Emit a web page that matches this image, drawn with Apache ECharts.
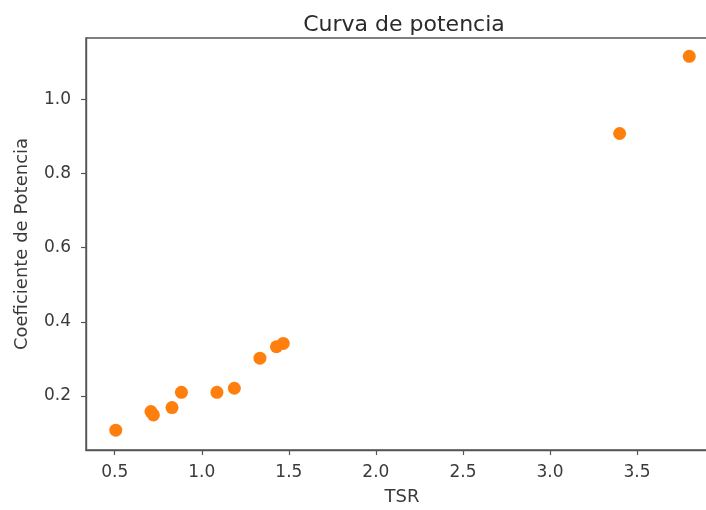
<!DOCTYPE html>
<html>
<head>
<meta charset="utf-8">
<script src="https://cdn.jsdelivr.net/npm/echarts@6/dist/echarts.min.js"></script>
<style>html,body{margin:0;padding:0;background:#fff}#c{width:706px;height:510px}</style>
</head>
<body>
<div id="c"></div>
<script>
const tsr = [0.506, 0.708, 0.722, 0.829, 0.883, 1.087, 1.187, 1.334, 1.429, 1.468, 3.40, 3.80];
const cp  = [0.108, 0.158, 0.149, 0.169, 0.210, 0.210, 0.221, 0.302, 0.333, 0.342, 0.908, 1.116];
const xTicks = [0.5, 1.0, 1.5, 2.0, 2.5, 3.0, 3.5];
const yTicks = [0.2, 0.4, 0.6, 0.8, 1.0];
const titleText = 'Curva de potencia';
const xName = 'TSR';
const yName = 'Coeficiente de Potencia';

const font = 'DejaVu Sans';
const chart = echarts.init(document.getElementById('c'), null, {renderer: 'canvas'});
chart.setOption({
  animation: false,
  backgroundColor: '#fff',
  title: {
    text: titleText, left: 399, top: 9, textAlign: 'center',
    textStyle: {fontFamily: font, fontSize: 22, fontWeight: 'normal', color: '#2a2a2a'}
  },
  grid: {left: 86, top: 38, width: 632, height: 412, show: true, borderColor: '#555', borderWidth: 1.4,
         containLabel: false, outerBoundsMode: 'none'},
  xAxis: {
    type: 'value', min: 0.335, max: 3.965,
    name: xName, nameLocation: 'middle', nameGap: 38,
    nameTextStyle: {fontFamily: font, fontSize: 18, color: '#3a3a3a'},
    axisLine: {show: true, onZero: false, lineStyle: {color: '#555', width: 1.4}},
    axisTick: {show: true, length: 5, customValues: xTicks, lineStyle: {color: '#555', width: 1.2}},
    axisLabel: {customValues: xTicks, formatter: v => v.toFixed(1), fontFamily: font, fontSize: 17, color: '#3a3a3a', margin: 14},
    splitLine: {show: false}
  },
  yAxis: {
    type: 'value', min: 0.0545, max: 1.1655,
    name: yName, nameLocation: 'middle', nameGap: 55,
    nameTextStyle: {fontFamily: font, fontSize: 18, color: '#3a3a3a'},
    axisLine: {show: true, onZero: false, lineStyle: {color: '#555', width: 1.4}},
    axisTick: {show: true, length: 5, customValues: yTicks, lineStyle: {color: '#555', width: 1.2}},
    axisLabel: {customValues: yTicks, formatter: v => v.toFixed(1), fontFamily: font, fontSize: 17, color: '#3a3a3a', margin: 15},
    splitLine: {show: false}
  },
  series: [{
    type: 'scatter',
    data: tsr.map((x, i) => [x, cp[i]]),
    symbolSize: 13,
    itemStyle: {color: '#ff7f0e', opacity: 1}
  }]
});
</script>
</body>
</html>
